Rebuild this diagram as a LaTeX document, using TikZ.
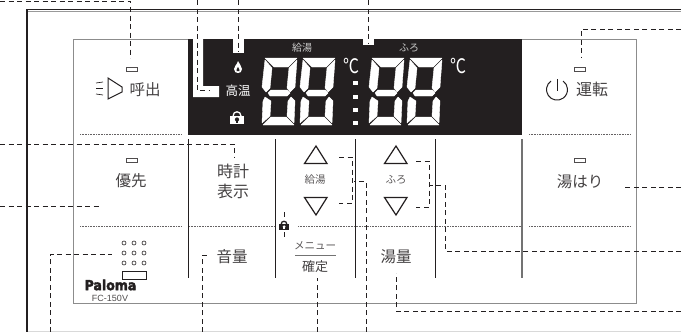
\documentclass[tikz,border=0pt]{standalone}
\usepackage{fontspec}
\newfontfamily\jpfont{Noto Sans CJK JP}
\newfontfamily\logofont[FakeBold=3]{DejaVu Sans Bold}
\newfontfamily\modelfont{Liberation Sans}
\definecolor{panelink}{HTML}{231F20}
\newcommand*\ledwd{11pt}
\newcommand*\ledht{4pt}
% one seven segment digit, origin at its top left corner
\newcommand*\segdigit[1]{%
  \begin{scope}[shift={(#1,58)}]
    \filldraw[segfill] (3,0) -- (35,0) -- (26,9) -- (12,9) -- cycle;
    \filldraw[segfill] (3,2) -- (10,10) -- (8,30) -- (4,34) -- (0,29) -- cycle;
    \filldraw[segfill] (35,2) -- (33,29) -- (28,34) -- (25,30) -- (27,10) -- cycle;
    \filldraw[segfill] (6,35) -- (9,32) -- (25,32) -- (28,35) -- (25,38) -- (8,38) -- cycle;
    \filldraw[segfill] (3,39) -- (9,43) -- (8,58) -- (0,65) -- (1,43) -- cycle;
    \filldraw[segfill] (29,39) -- (33,43) -- (32,65) -- (25,58) -- (26,43) -- cycle;
    \filldraw[segfill] (1,67) -- (9,59) -- (24,59) -- (32,67) -- cycle;
  \end{scope}}
% padlock: centre x, centre y, half width, body colour, hole colour
\newcommand*\padlock[5]{%
  \begin{scope}[shift={(#1,#2)}]
    \draw[#4,line width=1.3pt] (-#3*0.55,0) -- (-#3*0.55,-#3*0.2) arc[start angle=180,end angle=0,radius=#3*0.55pt] -- (#3*0.55,0);
    \fill[#4] (-#3,-#3*0.2) rectangle (#3,#3);
    \fill[#5] (0,#3*0.35) circle[radius=#3*0.3pt];
    \fill[#5] (-#3*0.12,#3*0.35) rectangle (#3*0.12,#3*0.8);
  \end{scope}}
\tikzset{
    segfill/.style = {fill=white,draw=white,line width=0.4pt,line join=round},
    ledcell/.style = {draw=panelink!80,line width=0.6pt,fill=white,minimum width=\ledwd,minimum height=\ledht,inner sep=0pt,outer sep=0pt},
    keylabel/.style = {font=\jpfont\fontsize{15.5}{17}\selectfont,text=panelink!85,inner sep=0pt},
    smalllabel/.style = {font=\jpfont\fontsize{10.5}{12}\selectfont,text=panelink!75,inner sep=0pt},
    panellabel/.style = {font=\jpfont\fontsize{10}{12}\selectfont,text=white!80!black,inner sep=0pt},
    degreelabel/.style = {font=\jpfont\fontsize{16}{18}\selectfont,text=white,inner sep=0pt,yscale=1.25},
    leader/.style = {draw=panelink,line width=0.8pt,dash pattern=on 5pt off 3.5pt},
    divider/.style = {draw=panelink,line width=0.7pt},
    dotline/.style = {draw=panelink!70,line width=0.8pt,dash pattern=on 0.8pt off 0.8pt},
    arrowkey/.style = {draw=panelink,line width=1.2pt,line join=miter},
    holedot/.style = {draw=panelink,line width=0.6pt,circle,minimum size=4pt,inner sep=0pt},
  }
\begin{document}
\begin{tikzpicture}[x=1pt,y=-1pt]
    \useasboundingbox (0,0) rectangle (681,332);

    % outer frame
    \draw[black!15,line width=1pt] (27,331.5) -- (681,331.5);
    \draw[black!40,line width=0.7pt] (28,11) -- (681,11);
    \draw[panelink,line width=1.6pt] (27,332) -- (27,9.5) -- (681,9.5);

    % panel and display
    \draw[black!45,line width=0.8pt] (73.5,39.5) rectangle (636,303);
    \fill[panelink] (188,39) rectangle (522,135);
    \fill[white] (193,39) -- (203,39) -- (203,86) -- (219,86) -- (219,97) -- (193,97) -- cycle;
    \fill[white] (233,39) rectangle (244,53);
    \fill[white] (363,39) rectangle (374,45);

    % dividers
    \foreach \x in {188.5,275,355,435} {
        \draw[divider] (\x,139) -- (\x,278);
    }
    \draw[black!55,line width=1.3pt] (522,139) -- (522,278);
    \foreach \a/\b in {80/182,529/630} {
        \draw[dotline] (\a,134.5) -- (\b,134.5);
        \draw[dotline] (\a,226) -- (\b,226);
    }
    \draw[dotline] (189,226) -- (275,226);
    \draw[dotline] (298,226) -- (522,226);

    % lamps
    \node[ledcell] (callled) at (131.5,69) {};
    \node[ledcell] (runled) at (579.5,69) {};
    \node[ledcell] (prioled) at (131.5,160) {};
    \node[ledcell] (fillled) at (579.5,160) {};

    % key labels
    \node[keylabel] (calltext) at (145,90) {呼出};
    \node[keylabel,font=\jpfont\fontsize{16}{18}\selectfont] (runtext) at (592,89) {運転};
    \node[keylabel] (priotext) at (131,181) {優先};
    \node[keylabel,font=\jpfont\fontsize{16}{18}\selectfont] (clocktext) at (233,171) {時計};
    \node[keylabel,font=\jpfont\fontsize{16}{18}\selectfont] (disptext) at (233,191) {表示};
    \node[keylabel] (voltext) at (232,257) {音量};
    \node[keylabel] (flowtext) at (396,257) {湯量};
    \node[keylabel] (filltext) at (580,182) {湯はり};
    \node[smalllabel] (supplytext) at (315,180) {給湯};
    \node[smalllabel] (bathtext) at (396,180) {ふろ};
    \node[smalllabel] (menutext) at (315,246) {メニュー};
    \node[keylabel,font=\jpfont\fontsize{13}{15}\selectfont] (oktext) at (315,267) {確定};
    \draw[black!55,line width=1.3pt] (295,255.5) -- (336,255.5);

    % display texts
    \node[panellabel] (dispsupply) at (302,48) {給湯};
    \node[panellabel] (dispbath) at (409,48) {ふろ};
    \node[keylabel,text=white,font=\jpfont\fontsize{12.5}{14}\selectfont] (hightext) at (238,90.5) {高温};
    \node[degreelabel] (degleft) at (351,66) {℃};
    \node[degreelabel] (degright) at (458,66) {℃};
    \segdigit{262}
    \segdigit{300}
    \segdigit{369}
    \segdigit{407}
    \foreach \y in {83,97,110,123} {
        \fill[white] (353,\y-2) rectangle (358,\y+2);
    }

    % flame and locks
    \fill[white] (238,61) .. controls (239,64) and (242,66) .. (242,69) .. controls (242,72) and (240,73) .. (238,73) .. controls (236,73) and (234,72) .. (234,69) .. controls (234,66) and (237,65) .. (238,61) -- cycle;
    \fill[panelink] (238,67) .. controls (239,69) and (240,70) .. (239.5,71) -- (236.5,71) .. controls (236,70) and (237,69) .. (238,67) -- cycle;
    \padlock{237}{117}{7}{white}{panelink}
    \padlock{284}{225}{5}{panelink}{white}
    \draw[panelink,line width=0.8pt] (284,212) -- (284,217);
    \draw[panelink,line width=0.8pt] (284,232) -- (284,237);

    % speaker and power symbols
    \draw[panelink,line width=1pt,line join=miter] (108,78) -- (122,87) -- (122,92) -- (108,99) -- cycle;
    \draw[panelink,line width=0.7pt] (96,83) -- (103,82);
    \draw[panelink,line width=0.7pt] (96,88.5) -- (103,88.5);
    \draw[panelink,line width=0.7pt] (96,94) -- (103,95);
    \draw[panelink,line width=1pt] (551,81) arc[start angle=125,end angle=415,radius=10.5pt];
    \draw[panelink,line width=1pt] (557,79) -- (557,91);

    % arrow keys
    \draw[arrowkey] (316,146) -- (327,163.5) -- (304.5,163.5) -- cycle;
    \draw[arrowkey] (316,215) -- (327,197.5) -- (304.5,197.5) -- cycle;
    \draw[arrowkey] (396,146) -- (407,163.5) -- (384.5,163.5) -- cycle;
    \draw[arrowkey] (396,215) -- (407,197.5) -- (384.5,197.5) -- cycle;

    % microphone holes and logo
    \foreach \x in {124,134,144} {
        \foreach \y in {243,253,263} {
            \node[holedot] (hole-\x-\y) at (\x,\y) {};
        }
    }
    \node[draw=panelink,line width=0.7pt,minimum width=24pt,minimum height=8.5pt,inner sep=0pt] (speakerbox) at (134,275.5) {};
    \node[font=\logofont\fontsize{12.5}{13}\selectfont,text=panelink,inner sep=0pt,yscale=1.1] (logotext) at (110.5,285) {Paloma};
    \node[font=\modelfont\fontsize{9}{10}\selectfont,text=panelink!80,inner sep=0pt] (modeltext) at (110,298) {FC-150V};

    % end points of the leader lines
    \foreach \name/\x/\y in {
        callout/0/1, callend/130/58,
        highout/197/0, highend/210/90.5,
        flameout/238/0, flameend/238/52,
        tempout/368/0, tempend/368/44,
        runout/681/29, runend/581/58,
        clockout/0/144, clockend/234/158,
        prioout/0/206, prioend/101/206,
        micout/50/332, micend/112/254,
        volout/202/332, volend/209/255,
        okout/317/332, okend/317/278,
        supplyout/366/332, supplyend/354/181,
        supplytop/339/157, supplybot/339/203, supplyelb/352/157, supplyelc/352/203,
        bathtop/416/161, bathbot/416/207, bathelb/429/161, bathelc/429/207,
        bathout/681/251, bathend/429/185, bathmid/445/185,
        fillout/681/187, fillend/622/187,
        flowout/681/311, flowend/396/273
    } {
        \coordinate (\name) at (\x,\y);
    }

    % leader lines
    \draw[leader] (callout) -| (callend);
    \draw[leader] (highout) |- (highend);
    \draw[leader] (flameout) -- (flameend);
    \draw[leader] (tempout) -- (tempend);
    \draw[leader] (runout) -| (runend);
    \draw[leader] (clockout) -| (clockend);
    \draw[leader] (prioout) -- (prioend);
    \draw[leader] (micout) |- (micend);
    \draw[leader] (volout) |- (volend);
    \draw[leader] (okout) -- (okend);
    \draw[leader] (supplyout) |- (supplyend);
    \draw[leader] (supplytop) -- (supplyelb) -- (supplyelc) -- (supplybot);
    \draw[leader] (bathtop) -- (bathelb) -- (bathelc) -- (bathbot);
    \draw[leader] (bathout) -| (bathmid) -- (bathend);
    \draw[leader] (fillout) -- (fillend);
    \draw[leader] (flowout) -| (flowend);
\end{tikzpicture}
\end{document}
